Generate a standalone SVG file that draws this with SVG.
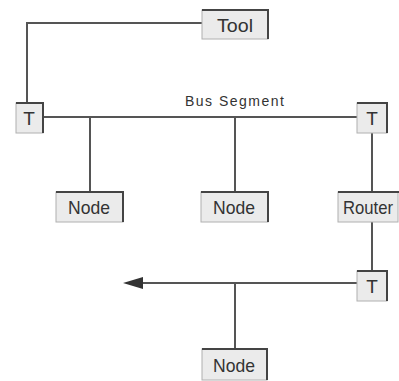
<svg xmlns="http://www.w3.org/2000/svg" width="399" height="381" viewBox="0 0 399 381">
<style>
.box{fill:#ebebeb;stroke:#b0b0b0;stroke-width:1}
.edge{fill:none;stroke:#444;stroke-width:2}
.ln{fill:none;stroke:#555;stroke-width:2}
.lbl{font-family:"Liberation Sans",Arial,sans-serif;font-size:19px;fill:#333;text-anchor:middle}
.bus{font-family:"Liberation Sans",Arial,sans-serif;font-size:14px;fill:#333;text-anchor:middle;letter-spacing:1.2px}
</style>
<rect width="399" height="381" fill="#fff"/>
<g id="connectors">
<polyline class="ln" points="202,23 27,23 27,103"/>
<line class="ln" x1="43" y1="117" x2="357" y2="117"/>
<line class="ln" x1="90" y1="117" x2="90" y2="192"/>
<line class="ln" x1="235" y1="117" x2="235" y2="192"/>
<line class="ln" x1="372" y1="133" x2="372" y2="192"/>
<line class="ln" x1="372" y1="222" x2="372" y2="271"/>
<line class="ln" x1="357" y1="283" x2="143" y2="283"/>
<path d="M123,283 L143,277 L143,289 Z" fill="#333"/>
<line class="ln" x1="235" y1="283" x2="235" y2="349"/>
</g>
<text class="bus" x="235" y="106" textLength="100" lengthAdjust="spacing">Bus Segment</text>
<g id="tool">
<rect class="box" x="202" y="10" width="66" height="29"/>
<polyline class="edge" points="202,10 268,10 268,39"/>
<text class="lbl" x="235" y="32" textLength="36" lengthAdjust="spacingAndGlyphs">Tool</text>
</g>
<g id="t1">
<rect class="box" x="16" y="103" width="27" height="30"/>
<polyline class="edge" points="16,103 43,103 43,133"/>
<text class="lbl" x="29" y="125">T</text>
</g>
<g id="t2">
<rect class="box" x="357" y="103" width="30" height="30"/>
<polyline class="edge" points="357,103 387,103 387,133"/>
<text class="lbl" x="372" y="125">T</text>
</g>
<g id="node1">
<rect class="box" x="56" y="192" width="67" height="30"/>
<polyline class="edge" points="56,192 123,192 123,222"/>
<text class="lbl" x="89" y="214" textLength="42" lengthAdjust="spacingAndGlyphs">Node</text>
</g>
<g id="node2">
<rect class="box" x="201" y="192" width="67" height="30"/>
<polyline class="edge" points="201,192 268,192 268,222"/>
<text class="lbl" x="234" y="214" textLength="42" lengthAdjust="spacingAndGlyphs">Node</text>
</g>
<g id="router">
<rect class="box" x="338" y="192" width="60" height="30"/>
<polyline class="edge" points="338,192 399,192"/>
<text class="lbl" x="368" y="214" textLength="50" lengthAdjust="spacingAndGlyphs">Router</text>
</g>
<g id="t3">
<rect class="box" x="357" y="271" width="30" height="30"/>
<polyline class="edge" points="357,271 387,271 387,301"/>
<text class="lbl" x="372" y="293">T</text>
</g>
<g id="node3">
<rect class="box" x="202" y="349" width="65" height="31"/>
<polyline class="edge" points="202,349 267,349 267,380"/>
<text class="lbl" x="234" y="372" textLength="42" lengthAdjust="spacingAndGlyphs">Node</text>
</g>
</svg>
